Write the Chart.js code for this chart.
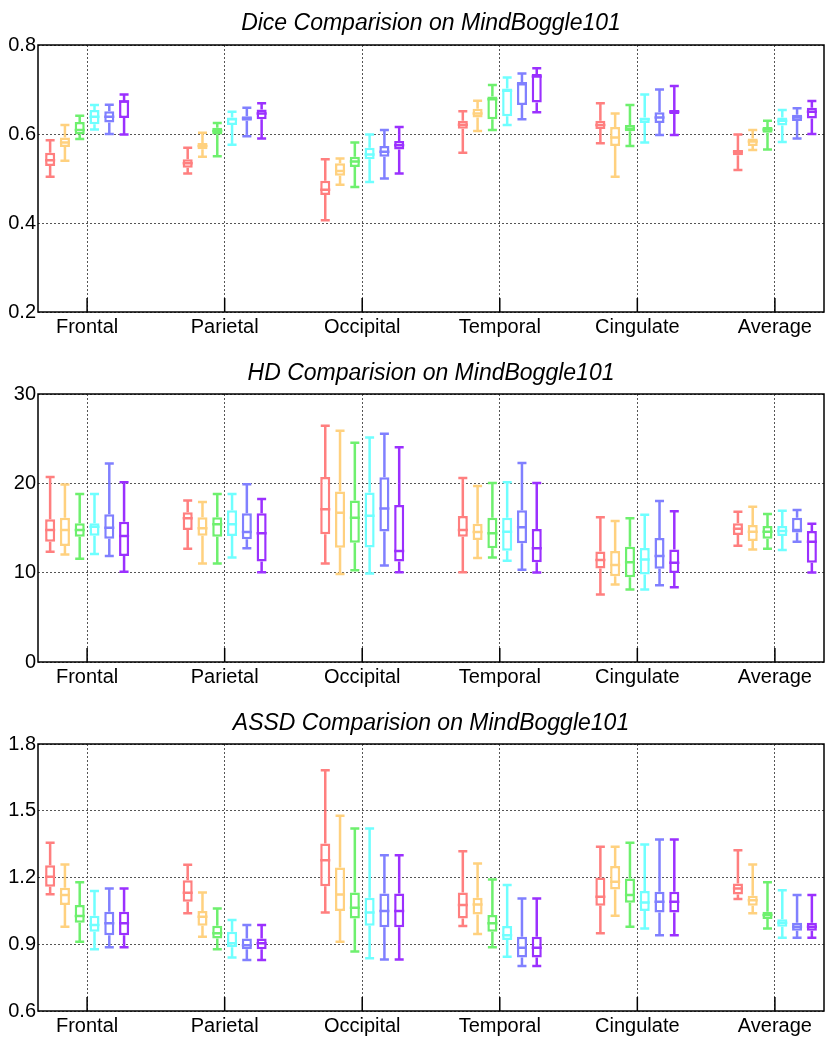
<!DOCTYPE html>
<html lang="en">
<head>
<meta charset="UTF-8">
<title>MindBoggle101 Comparisons</title>
<script src="https://cdn.jsdelivr.net/npm/chart.js"></script>
<style>
    body { margin: 0; background: #fff; }
    .chart-box { position: absolute; left: 0; width: 830px; }
</style>
</head>
<body>
<div class="chart-box" style="top:0;height:347px"><canvas id="dice"></canvas></div>
<div class="chart-box" style="top:350px;height:347px"><canvas id="hd"></canvas></div>
<div class="chart-box" style="top:700px;height:341px"><canvas id="assd"></canvas></div>

<script>
const regions = ['Frontal', 'Parietal', 'Occipital', 'Temporal', 'Cingulate', 'Average'];
const methodColors = ['#ff7f7f', '#ffd17f', '#6ef06e', '#6fffff', '#8080ff', '#9b30ff'];

// rows: the six methods (red, orange, green, cyan, blue, purple); columns: regions
const diceMin = [
    [0.504, 0.511, 0.406, 0.558, 0.579, 0.519],
    [0.540, 0.549, 0.486, 0.607, 0.504, 0.564],
    [0.589, 0.550, 0.481, 0.609, 0.573, 0.565],
    [0.610, 0.576, 0.492, 0.620, 0.581, 0.582],
    [0.600, 0.595, 0.500, 0.633, 0.598, 0.590],
    [0.599, 0.590, 0.511, 0.649, 0.598, 0.600]
];
const diceQ1 = [
    [0.528, 0.524, 0.463, 0.612, 0.611, 0.552],
    [0.571, 0.566, 0.506, 0.637, 0.573, 0.573],
    [0.599, 0.599, 0.526, 0.633, 0.606, 0.603],
    [0.622, 0.620, 0.543, 0.640, 0.625, 0.619],
    [0.626, 0.630, 0.549, 0.665, 0.625, 0.629],
    [0.636, 0.633, 0.565, 0.671, 0.645, 0.635]
];
const diceMedian = [
    [0.541, 0.534, 0.475, 0.621, 0.620, 0.560],
    [0.581, 0.573, 0.517, 0.646, 0.592, 0.583],
    [0.609, 0.607, 0.538, 0.678, 0.612, 0.610],
    [0.639, 0.633, 0.554, 0.697, 0.633, 0.630],
    [0.639, 0.635, 0.560, 0.712, 0.637, 0.637],
    [0.673, 0.646, 0.575, 0.729, 0.650, 0.650]
];
const diceQ3 = [
    [0.558, 0.543, 0.495, 0.630, 0.630, 0.564],
    [0.592, 0.580, 0.534, 0.657, 0.616, 0.590],
    [0.627, 0.614, 0.549, 0.684, 0.620, 0.616],
    [0.654, 0.637, 0.569, 0.702, 0.637, 0.637],
    [0.651, 0.640, 0.573, 0.717, 0.649, 0.643],
    [0.676, 0.655, 0.584, 0.735, 0.654, 0.659]
];
const diceMax = [
    [0.586, 0.569, 0.543, 0.651, 0.669, 0.599],
    [0.620, 0.603, 0.545, 0.675, 0.646, 0.609],
    [0.641, 0.625, 0.581, 0.710, 0.665, 0.630],
    [0.665, 0.650, 0.599, 0.727, 0.689, 0.654],
    [0.666, 0.659, 0.609, 0.736, 0.700, 0.658],
    [0.689, 0.669, 0.616, 0.748, 0.708, 0.674]
];

const hdMin = [
    [12.34, 12.68, 11.03, 10.06, 7.55, 13.02],
    [12.04, 11.03, 9.84, 11.63, 8.68, 12.60],
    [11.56, 11.03, 10.28, 11.71, 8.11, 12.68],
    [12.08, 11.71, 9.91, 11.33, 8.11, 12.53],
    [11.86, 12.72, 10.81, 10.32, 8.60, 13.46],
    [10.10, 10.06, 10.06, 10.02, 8.38, 10.02]
];
const hdQ1 = [
    [13.46, 14.77, 14.29, 14.03, 10.47, 14.21],
    [12.98, 14.14, 12.79, 13.65, 9.61, 13.54],
    [14.03, 14.03, 13.35, 12.72, 9.50, 13.80],
    [14.14, 14.10, 12.83, 12.45, 9.80, 14.10],
    [13.80, 13.73, 14.62, 13.28, 10.43, 14.51],
    [11.86, 11.26, 11.26, 11.18, 9.95, 11.11]
];
const hdMedian = [
    [14.77, 16.08, 17.09, 14.77, 11.41, 14.92],
    [14.77, 14.96, 16.72, 14.55, 10.85, 14.59],
    [14.77, 15.41, 16.16, 14.40, 11.18, 14.59],
    [15.15, 15.41, 16.38, 14.59, 11.48, 14.66],
    [15.04, 14.55, 17.17, 15.07, 11.86, 14.77],
    [14.10, 14.40, 12.42, 12.72, 11.11, 13.46]
];
const hdQ3 = [
    [15.97, 16.76, 20.72, 16.34, 12.38, 15.52],
    [16.16, 16.20, 19.08, 15.48, 12.42, 15.33],
    [15.52, 16.20, 18.07, 16.16, 12.90, 15.22],
    [15.52, 16.98, 18.96, 16.16, 12.75, 15.22],
    [16.53, 16.64, 20.68, 16.98, 13.88, 16.16],
    [15.71, 16.64, 17.58, 14.89, 12.60, 14.66]
];
const hdMax = [
    [20.70, 18.07, 26.45, 20.61, 16.20, 16.83],
    [19.86, 17.92, 25.88, 19.71, 15.78, 17.39],
    [18.81, 18.81, 24.54, 20.05, 16.08, 16.57],
    [18.81, 18.81, 25.14, 20.12, 16.49, 16.94],
    [22.22, 19.90, 25.55, 22.29, 18.03, 17.02],
    [20.12, 18.25, 24.05, 20.05, 16.87, 15.48]
];

const assdMin = [
    [1.125, 1.039, 1.043, 0.982, 0.949, 1.103],
    [0.979, 0.934, 0.911, 0.946, 1.028, 1.039],
    [0.911, 0.877, 0.867, 0.886, 0.979, 0.971],
    [0.877, 0.840, 0.837, 0.844, 0.971, 0.929],
    [0.886, 0.829, 0.832, 0.802, 0.941, 0.929],
    [0.886, 0.829, 0.832, 0.802, 0.941, 0.929]
];
const assdQ1 = [
    [1.158, 1.091, 1.161, 1.016, 1.073, 1.124],
    [1.076, 0.983, 1.050, 1.034, 1.146, 1.073],
    [0.997, 0.926, 1.016, 0.956, 1.086, 1.013],
    [0.956, 0.886, 0.983, 0.919, 1.050, 0.979],
    [0.941, 0.877, 0.976, 0.841, 1.043, 0.961],
    [0.941, 0.877, 0.976, 0.841, 1.043, 0.961]
];
const assdMedian = [
    [1.203, 1.131, 1.278, 1.076, 1.113, 1.151],
    [1.121, 1.024, 1.124, 1.079, 1.181, 1.098],
    [1.027, 0.949, 1.064, 0.994, 1.121, 1.031],
    [0.986, 0.904, 1.043, 0.941, 1.088, 0.997],
    [0.994, 0.896, 1.050, 0.884, 1.091, 0.979],
    [0.994, 0.904, 1.050, 0.884, 1.091, 0.979]
];
const assdQ3 = [
    [1.255, 1.188, 1.353, 1.133, 1.200, 1.173],
    [1.154, 1.049, 1.245, 1.109, 1.252, 1.118],
    [1.076, 0.983, 1.133, 1.031, 1.196, 1.046],
    [1.028, 0.956, 1.109, 0.982, 1.139, 1.012],
    [1.046, 0.926, 1.128, 0.934, 1.136, 0.997],
    [1.046, 0.926, 1.128, 0.934, 1.136, 0.997]
];
const assdMax = [
    [1.356, 1.257, 1.682, 1.318, 1.338, 1.323],
    [1.258, 1.133, 1.477, 1.263, 1.338, 1.258],
    [1.179, 1.061, 1.420, 1.191, 1.356, 1.179],
    [1.139, 1.009, 1.420, 1.166, 1.348, 1.143],
    [1.151, 0.986, 1.300, 1.106, 1.371, 1.121],
    [1.151, 0.986, 1.300, 1.106, 1.371, 1.121]
];

const diceTicks = [0.2, 0.4, 0.6, 0.8];
const hdTicks = [0, 10, 20, 30];
const assdTicks = [0.6, 0.9, 1.2, 1.5, 1.8];

const FONT = "'Liberation Sans', Arial, sans-serif";

// whiskers, caps and median lines on top of the floating bars (the boxes)
const whiskerPlugin = {
    id: 'whiskers',
    afterDatasetsDraw(chart) {
        const ctx = chart.ctx, y = chart.scales.y;
        ctx.save();
        ctx.lineWidth = 2.5;
        chart.data.datasets.forEach((ds, d) => {
            const meta = chart.getDatasetMeta(d);
            ctx.strokeStyle = ds.borderColor;
            meta.data.forEach((bar, i) => {
                const x = bar.x, half = bar.width / 2, cap = 4.5;
                const yLo = y.getPixelForValue(ds.low[i]);
                const yHi = y.getPixelForValue(ds.high[i]);
                const yMed = y.getPixelForValue(ds.median[i]);
                const yQ1 = y.getPixelForValue(ds.data[i].y[0]);
                const yQ3 = y.getPixelForValue(ds.data[i].y[1]);
                ctx.beginPath();
                ctx.moveTo(x, yQ3); ctx.lineTo(x, yHi);
                ctx.moveTo(x, yQ1); ctx.lineTo(x, yLo);
                ctx.moveTo(x - cap, yHi); ctx.lineTo(x + cap, yHi);
                ctx.moveTo(x - cap, yLo); ctx.lineTo(x + cap, yLo);
                ctx.moveTo(x - half, yMed); ctx.lineTo(x + half, yMed);
                ctx.stroke();
            });
        });
        ctx.restore();
    }
};

// black frame round the plot area and the short inward ticks at each region
const framePlugin = {
    id: 'frame',
    afterDatasetsDraw(chart) {
        const { ctx, chartArea: a } = chart;
        const x = chart.scales.x;
        ctx.save();
        ctx.strokeStyle = '#000';
        ctx.lineWidth = 1.5;
        ctx.strokeRect(a.left, a.top, a.right - a.left, a.bottom - a.top);
        ctx.beginPath();
        x.ticks.forEach(t => {
            const px = x.getPixelForValue(t.value);
            ctx.moveTo(px, a.bottom);
            ctx.lineTo(px, a.bottom - 14);
        });
        ctx.stroke();
        ctx.restore();
    }
};

function makeChart(id, title, low, q1, median, q3, high, ticks, decimals, plotTop, axisHeight) {
    const datasets = methodColors.map((color, m) => ({
        data: regions.map((r, i) => ({ x: i, y: [q1[m][i], q3[m][i]] })),
        low: low[m],
        high: high[m],
        median: median[m],
        borderColor: color,
        backgroundColor: '#ffffff',
        borderWidth: 2.5,
        borderSkipped: false,
        categoryPercentage: 0.645,
        barPercentage: 0.68
    }));

    return new Chart(document.getElementById(id), {
        type: 'bar',
        data: { datasets: datasets },
        options: {
            responsive: true,
            maintainAspectRatio: false,
            animation: false,
            layout: { padding: { left: 0, right: 6, top: 0, bottom: 0 } },
            plugins: {
                legend: { display: false },
                tooltip: { enabled: false },
                title: {
                    display: true,
                    text: title,
                    fullSize: false,
                    color: '#000',
                    font: { family: FONT, size: 23, style: 'italic', weight: 'normal', lineHeight: 1.2 },
                    padding: { top: 10, bottom: plotTop - 10 - 27.6 }
                }
            },
            scales: {
                x: {
                    type: 'linear',
                    min: -0.357,
                    max: 5.357,
                    offset: false,
                    afterBuildTicks: s => { s.ticks = regions.map((r, i) => ({ value: i })); },
                    afterFit: s => { s.height = axisHeight; },
                    ticks: {
                        color: '#000',
                        padding: 3,
                        maxRotation: 0,
                        font: { family: FONT, size: 20 },
                        callback: v => regions[v]
                    },
                    grid: { offset: false, drawTicks: false, color: '#555', lineWidth: 1 },
                    border: { display: false, dash: [2, 2] }
                },
                y: {
                    min: ticks[0],
                    max: ticks[ticks.length - 1],
                    afterBuildTicks: s => { s.ticks = ticks.map(v => ({ value: v })); },
                    afterFit: s => { s.width = 38; },
                    ticks: {
                        color: '#000',
                        padding: 2,
                        font: { family: FONT, size: 20 },
                        callback: v => v.toFixed(decimals)
                    },
                    grid: { drawTicks: false, color: '#555', lineWidth: 1 },
                    border: { display: false, dash: [2, 2] }
                }
            }
        },
        plugins: [whiskerPlugin, framePlugin]
    });
}

makeChart('dice', 'Dice Comparision on MindBoggle101',
    diceMin, diceQ1, diceMedian, diceQ3, diceMax, diceTicks, 1, 45, 35);
makeChart('hd', 'HD Comparision on MindBoggle101',
    hdMin, hdQ1, hdMedian, hdQ3, hdMax, hdTicks, 0, 44, 35);
makeChart('assd', 'ASSD Comparision on MindBoggle101',
    assdMin, assdQ1, assdMedian, assdQ3, assdMax, assdTicks, 1, 44, 30);
</script>
</body>
</html>
